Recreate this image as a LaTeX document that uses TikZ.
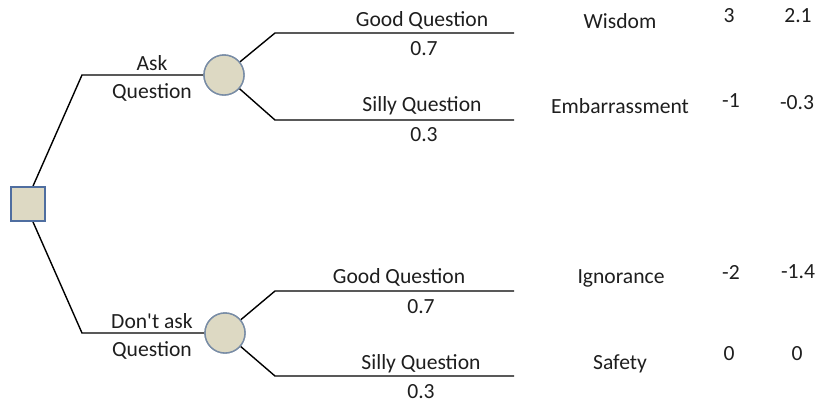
\documentclass[tikz,border=0pt]{standalone}
\usepackage{fontspec}
\setmainfont{Carlito}[Ligatures=TeXOff]
\definecolor{nodefill}{RGB}{221,217,195}
\definecolor{sqborder}{RGB}{79,110,160}
\definecolor{circborder}{RGB}{120,140,165}
\definecolor{txt}{RGB}{30,30,30}
\begin{document}
\begin{tikzpicture}[x=0.5pt,y=-0.5pt,
  branch/.style={line width=0.7pt,black},
  lbl/.style={inner sep=0pt,text=txt,font=\fontsize{10.8}{12}\selectfont},
  decbox/.style={draw=sqborder,line width=0.9pt,fill=nodefill,minimum size=17pt,inner sep=0pt},
  chance/.style={circle,draw=circborder,line width=0.7pt,fill=nodefill,minimum size=20pt,inner sep=0pt}]
\useasboundingbox (0,0) rectangle (819,404);
% nodes
\node[decbox] (d) at (28,204) {};
\node[chance] (c1) at (224,75) {};
\node[chance] (c2) at (225,333) {};
% bend points
\path (d.north) ++(5,0) coordinate (dn);
\path (d.south) ++(5,0) coordinate (ds);
\coordinate (a1) at (82,75);
\coordinate (a2) at (82,333);
\coordinate (u1) at (275,33);  \coordinate (u1e) at (514,33);
\coordinate (u2) at (275,120); \coordinate (u2e) at (514,120);
\coordinate (l1) at (275,291); \coordinate (l1e) at (514,291);
\coordinate (l2) at (275,376); \coordinate (l2e) at (514,376);
% connectors
\draw[branch] (dn) -- (a1) -- (c1);
\draw[branch] (ds) -- (a2) -- (c2);
\draw[branch] (c1) -- (u1) -- (u1e);
\draw[branch] (c1) -- (u2) -- (u2e);
\draw[branch] (c2) -- (l1) -- (l1e);
\draw[branch] (c2) -- (l2) -- (l2e);
% redraw nodes on top
\node[decbox] at (d) {};
\node[chance] at (c1) {};
\node[chance] at (c2) {};
% branch labels
\node[lbl] (t1) at (152,63) {Ask};
\node[lbl] (t2) at (152,92) {Question};
\node[lbl] (t3) at (152,321) {Don't ask};
\node[lbl] (t4) at (152,350) {Question};
\node[lbl] (g1) at (422,20) {Good Question};
\node[lbl] (p1) at (424,49) {0.7};
\node[lbl] (s1) at (422,106) {Silly Question};
\node[lbl] (p2) at (424,135) {0.3};
\node[lbl] (g2) at (399,277) {Good Question};
\node[lbl] (p3) at (421,307) {0.7};
\node[lbl] (s2) at (421,364) {Silly Question};
\node[lbl] (p4) at (421,392) {0.3};
% outcomes
\node[lbl] (o1) at (620,21) {Wisdom};
\node[lbl] (o2) at (620,106) {Embarrassment};
\node[lbl] (o3) at (621,278) {Ignorance};
\node[lbl] (o4) at (620,364) {Safety};
% values
\node[lbl] (v1) at (729,16) {3};
\node[lbl] (w1) at (798,16) {2.1};
\node[lbl] (v2) at (731,101) {-1};
\node[lbl] (w2) at (797,103) {-0.3};
\node[lbl] (v3) at (731,272) {-2};
\node[lbl] (w3) at (798,272) {-1.4};
\node[lbl] (v4) at (729,354) {0};
\node[lbl] (w4) at (797,354) {0};
\end{tikzpicture}
\end{document}
